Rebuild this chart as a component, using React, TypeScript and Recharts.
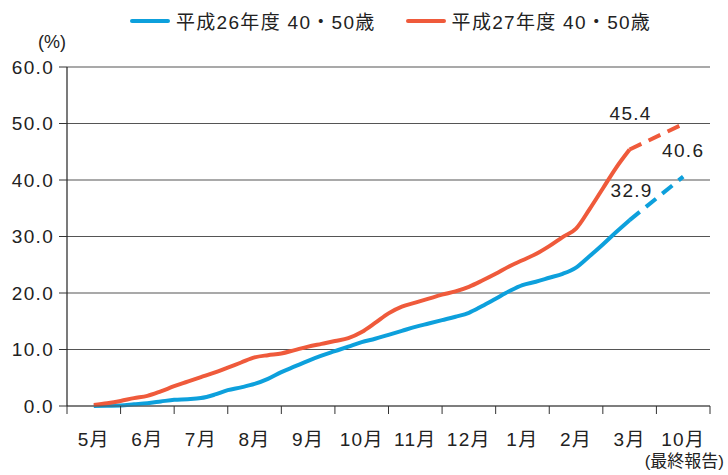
import { LineChart, Line, XAxis, YAxis, CartesianGrid, LabelList } from "recharts";

const MONTHS = ["5月", "6月", "7月", "8月", "9月", "10月", "11月", "12月", "1月", "2月", "3月", "10月"];
const X_TICKS = [0, 1, 2, 3, 4, 5, 6, 7, 8, 9, 10, 11, 12];
const Y_TICKS = [0, 10, 20, 30, 40, 50, 60];

// weekly-ish positions, in month units (0.5 = middle of 5月)
const POS = [
  0.5, 0.75, 1.0, 1.25, 1.5, 1.75, 2.0, 2.25, 2.5, 2.75,
  3.0, 3.25, 3.5, 3.75, 4.0, 4.25, 4.5, 4.75, 5.0, 5.25,
  5.5, 5.75, 6.0, 6.25, 6.5, 6.75, 7.0, 7.25, 7.5, 7.75,
  8.0, 8.25, 8.5, 8.75, 9.0, 9.25, 9.5, 9.75, 10.0, 10.25, 10.5,
];
const H26 = [
  0.0, 0.05, 0.1, 0.3, 0.5, 0.8, 1.1, 1.2, 1.4, 2.0,
  2.8, 3.3, 3.9, 4.8, 6.0, 7.0, 8.0, 8.9, 9.7, 10.5,
  11.3, 11.9, 12.6, 13.3, 14.0, 14.6, 15.2, 15.8, 16.5, 17.7,
  19.0, 20.3, 21.4, 22.0, 22.7, 23.4, 24.5, 26.5, 28.6, 30.8, 32.9,
];
const H27 = [
  0.2, 0.5, 0.9, 1.4, 1.8, 2.6, 3.5, 4.3, 5.1, 5.9,
  6.8, 7.7, 8.6, 9.0, 9.3, 9.9, 10.5, 11.0, 11.5, 12.0,
  13.1, 14.7, 16.4, 17.6, 18.3, 19.0, 19.7, 20.3, 21.1, 22.2,
  23.4, 24.7, 25.8, 26.9, 28.3, 29.9, 31.4, 34.8, 38.5, 42.2, 45.4,
];

// 3月 -> 10月 (最終報告), dashed
const DASH_POS = [10.5, 11.5];
const H26_DASH = [32.9, 40.6];
const H27_DASH = [45.4, 49.9];
const H26_LABELS = ["32.9", "40.6"];
const H27_LABELS = ["45.4", ""];

const BLUE = "#0DA0DC";
const RED = "#EF5A3B";
const FONT = '"Liberation Sans", Arial, "Noto Sans CJK JP", sans-serif';
const TXT = "#222";
const FS = 19;
const LS = 1.3;

const W = 728;
const H = 475;
const M = { top: 67, right: 18, bottom: 29, left: 0 };
const Y_W = 67;
const STEP = (W - M.left - Y_W - M.right) / 12;

const solid = POS.map((m, i) => ({ m, h26: H26[i], h27: H27[i] }));
const dashB = DASH_POS.map((m, i) => ({ m, v: H26_DASH[i], lbl: H26_LABELS[i] }));
const dashR = DASH_POS.map((m, i) => ({ m, v: H27_DASH[i], lbl: H27_LABELS[i] }));

function MonthTick({ x, y, payload }: any) {
  if (payload.value >= 12) return null;
  return (
    <text x={x + STEP / 2} y={y + 30} textAnchor="middle" fontSize={FS} letterSpacing={LS} fill={TXT} fontFamily={FONT}>
      {MONTHS[payload.value]}
    </text>
  );
}

function makeLabel(offsets: { dx: number; dy: number }[]) {
  return (props: any) => {
    const { x, y, value, index } = props;
    if (!value) return null;
    const o = offsets[index];
    return (
      <text x={x + o.dx} y={y + o.dy} textAnchor="middle" fontSize={FS} letterSpacing={LS} fill={TXT} fontFamily={FONT}>
        {value}
      </text>
    );
  };
}

function LegendBox() {
  const item = (color: string, text: string) => (
    <div style={{ display: "flex", alignItems: "center" }}>
      <div style={{ width: 40, height: 4, background: color, borderRadius: 2, marginRight: 6 }} />
      <span style={{ fontSize: FS, letterSpacing: LS, color: TXT, fontFamily: FONT }}>{text}</span>
    </div>
  );
  return (
    <div style={{ position: "absolute", left: 130, top: 7, display: "flex", gap: 30 }}>
      {item(BLUE, "平成26年度 40・50歳")}
      {item(RED, "平成27年度 40・50歳")}
    </div>
  );
}

export default function App() {
  return (
    <div style={{ position: "fixed", left: 0, top: 0, width: W, height: H, background: "#fff", fontFamily: FONT }}>
      <LineChart width={W} height={H} margin={M}>
        <CartesianGrid vertical={false} stroke="#555" strokeWidth={1.2} />
        <XAxis
          dataKey="m"
          type="number"
          domain={[0, 12]}
          ticks={X_TICKS}
          interval={0}
          height={40}
          tick={<MonthTick />}
          tickSize={8}
          axisLine={{ stroke: "#555", strokeWidth: 1.2 }}
          tickLine={{ stroke: "#333" }}
          allowDataOverflow
        />
        <YAxis
          type="number"
          domain={[0, 60]}
          ticks={Y_TICKS}
          width={Y_W}
          tickSize={8}
          tickMargin={5}
          tickFormatter={(v: number) => v.toFixed(1)}
          tick={{ fontSize: FS, letterSpacing: LS, fill: TXT, fontFamily: FONT }}
          axisLine={{ stroke: "#222", strokeWidth: 1.2 }}
          tickLine={{ stroke: "#333" }}
        />
        <Line data={solid} dataKey="h26" name="平成26年度 40・50歳" type="monotone" stroke={BLUE} strokeWidth={4} dot={false} isAnimationActive={false} />
        <Line data={solid} dataKey="h27" name="平成27年度 40・50歳" type="monotone" stroke={RED} strokeWidth={4} dot={false} isAnimationActive={false} />
        <Line data={dashB} dataKey="v" type="linear" stroke={BLUE} strokeWidth={4} strokeDasharray="13 8" dot={false} isAnimationActive={false}>
          <LabelList dataKey="lbl" content={makeLabel([{ dx: 2, dy: -23 }, { dx: 0, dy: -20 }])} />
        </Line>
        <Line data={dashR} dataKey="v" type="linear" stroke={RED} strokeWidth={4} strokeDasharray="13 8" dot={false} isAnimationActive={false}>
          <LabelList dataKey="lbl" content={makeLabel([{ dx: 1, dy: -29 }, { dx: 0, dy: 0 }])} />
        </Line>
      </LineChart>
      <LegendBox />
      <div style={{ position: "absolute", left: 38, top: 32, fontSize: 18, color: TXT }}>(%)</div>
      <div style={{ position: "absolute", right: 4, top: 452, fontSize: 17, lineHeight: "20px", color: TXT }}>(最終報告)</div>
    </div>
  );
}
